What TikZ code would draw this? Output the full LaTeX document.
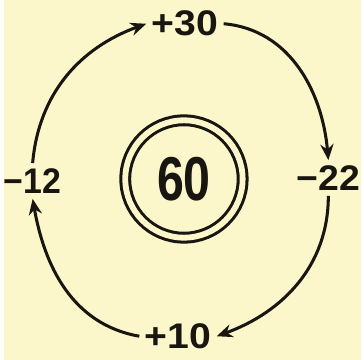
\documentclass[tikz,border=0pt]{standalone}
\usepackage{fontspec}
\setmainfont{Liberation Sans}
\usetikzlibrary{arrows.meta}
\definecolor{paper}{RGB}{252,247,202}
\definecolor{ink}{RGB}{25,22,18}

\begin{document}
\begin{tikzpicture}[x=0.75pt,y=0.75pt,line width=2.3pt,
  num/.style={font=\fontsize{27}{27}\selectfont\bfseries,text=ink,inner sep=3pt},
  turn/.style={draw=ink,-{Stealth[length=12pt,width=10pt]}}]
\fill[paper] (0,0) rectangle (361,364);
% the total in the middle
\node[circle,draw=ink,double=paper,double distance=4.4pt,minimum size=89pt,inner sep=0pt,text=ink] (total) at (182,183)
  {\scalebox{0.78}[1]{\fontsize{47}{47}\selectfont\bfseries 60}};
% the four changes
\node[num] (up) at (183,340) {\scalebox{1.1}[1]{+30}};
\node[num] (right) at (328,184) {\scalebox{1.05}[1]{−22}};
\node[num] (down) at (176,24) {\scalebox{1.1}[1]{+10}};
\node[num] (left) at (29,181) {\scalebox{0.95}[1]{−12}};
% clockwise arrows
\draw[turn] (left.north) to[out=85,in=200] (up.west);
\draw[turn] (up.east) to[out=-5,in=95] (right.north);
\draw[turn] (right.south) to[out=-90,in=20] (down.east);
\draw[turn] (down.west) to[out=170,in=-80] (left.south);
\end{tikzpicture}
\end{document}
